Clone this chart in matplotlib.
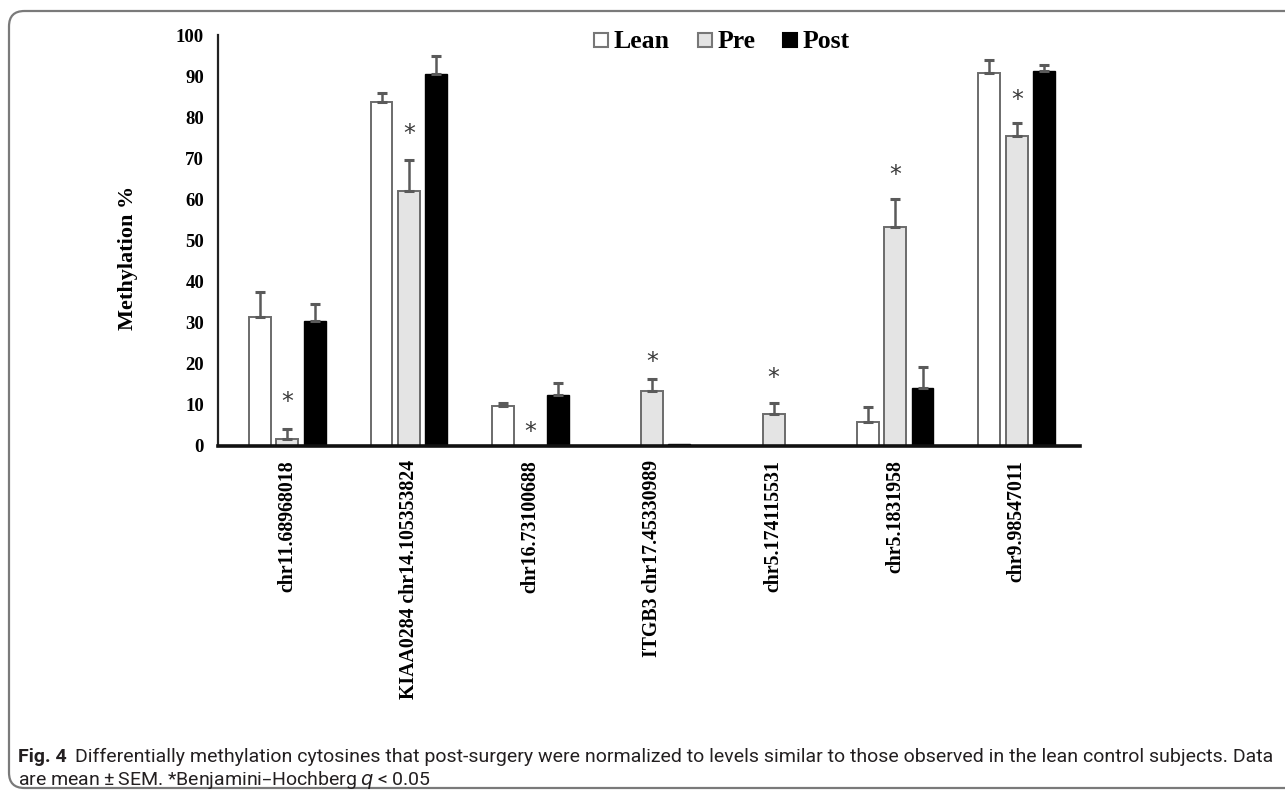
import matplotlib
matplotlib.use("Agg")
import matplotlib.pyplot as plt
import numpy as np
from matplotlib.lines import Line2D
from matplotlib.patches import FancyBboxPatch
from matplotlib import font_manager

categories = ["chr11.68968018", "KIAA0284 chr14.105353824", "chr16.73100688",
              "ITGB3 chr17.45330989", "chr5.174115531", "chr5.1831958", "chr9.98547011"]
series_names = ["Lean", "Pre", "Post"]
lean = [31.3, 83.8, 9.7, 0.0, 0.0, 5.8, 90.7]
lean_err = [6.2, 2.0, 0.8, 0.0, 0.0, 3.7, 3.2]
pre = [1.8, 62.0, 0.0, 13.4, 7.8, 53.2, 75.5]
pre_err = [2.4, 7.5, 0.0, 3.0, 2.6, 7.0, 3.2]
post = [30.4, 90.4, 12.4, 0.6, 0.0, 14.1, 91.2]
post_err = [4.1, 4.4, 3.0, 0.0, 0.0, 5.1, 1.4]
star_y = [10.7, 76.0, 3.5, 20.5, 16.5, 66.0, 84.2]
yticks = [0, 10, 20, 30, 40, 50, 60, 70, 80, 90, 100]
caption_bold = "Fig. 4"
caption_line1 = ("Differentially methylation cytosines that post-surgery were normalized to levels "
                 "similar to those observed in the lean control subjects. Data")
caption_line2 = "are mean\u2009\u00b1\u2009SEM. *Benjamini\u2013Hochberg $q$\u2009<\u20090.05"

W, H = 1285, 793
fig = plt.figure(figsize=(W / 100, H / 100), dpi=100)
serif = "Liberation Serif"

# axes placement (pixels)
ax_left, ax_right, ax_bottom, ax_top = 218, 1080, 446, 35
ax = fig.add_axes([ax_left / W, 1 - ax_bottom / H, (ax_right - ax_left) / W, (ax_bottom - ax_top) / H])

x = np.arange(len(categories))
bw = 0.18
off = 0.225
edge = "#6b6b6b"
errc = "#5a5a5a"
ekw = dict(ecolor=errc, elinewidth=1.8, capsize=3.3, capthick=2.2)

ax.bar(x - off, lean, bw, color="white", edgecolor=edge, linewidth=1.4, zorder=2)
ax.bar(x, pre, bw, color="#e4e4e4", edgecolor=edge, linewidth=1.4, zorder=2)
ax.bar(x + off, post, bw, color="black", edgecolor="black", linewidth=1.0, zorder=2)

def errs(pos, vals, e):
    for p, v, ee in zip(pos, vals, e):
        if ee > 0:
            ax.errorbar([p], [v], yerr=[[0], [ee]], fmt="none", zorder=3, **ekw)

errs(x - off, lean, lean_err)
errs(x, pre, pre_err)
errs(x + off, post, post_err)

for xi, sy in zip(x, star_y):
    ax.text(xi, sy, "*", ha="center", va="center", fontsize=17, color="#3a3a3a",
            family="DejaVu Sans")

ax.set_xlim(-0.57, len(categories) - 0.48)
ax.set_ylim(0, 100)
ax.set_yticks(yticks)
ax.set_yticklabels([str(t) for t in yticks], fontsize=13.5, fontweight="bold", family=serif)
ax.set_xticks(x)
ax.set_xticklabels(categories, rotation=90, fontsize=14.3, fontweight="bold", family=serif,
                   va="top", ha="center")
ax.tick_params(axis="y", length=0, pad=10)
ax.tick_params(axis="x", length=0, pad=10)
for s in ["top", "right"]:
    ax.spines[s].set_visible(False)
ax.spines["left"].set_linewidth(1.6)
ax.spines["bottom"].set_linewidth(2.6)
ax.spines["left"].set_color("#222222")
ax.spines["bottom"].set_color("#111111")

fig.text(128 / W, 1 - 258 / H, "Methylation %", rotation=90, ha="center", va="center",
         fontsize=16, fontweight="bold", family=serif)

handles = [
    Line2D([], [], marker="s", linestyle="none", markersize=10.5, markerfacecolor="white",
           markeredgecolor="#777777", markeredgewidth=1.5),
    Line2D([], [], marker="s", linestyle="none", markersize=10.5, markerfacecolor="#e4e4e4",
           markeredgecolor="#777777", markeredgewidth=1.5),
    Line2D([], [], marker="s", linestyle="none", markersize=10.5, markerfacecolor="black",
           markeredgecolor="black", markeredgewidth=1.5),
]
fig.legend(handles, series_names, loc="center", bbox_to_anchor=(721 / W, 1 - 42 / H), ncol=3,
           frameon=False, handlelength=0.7, handletextpad=0.15, columnspacing=1.0,
           prop=dict(family=serif, weight="bold", size=18.5))

# frame
frame = FancyBboxPatch((9 / W, 1 - 788 / H), (W + 40) / W, (788 - 11) / H,
                       boxstyle="round,pad=0,rounding_size=0.012", transform=fig.transFigure,
                       fill=False, edgecolor="#7a7a7a", linewidth=1.6, clip_on=False,
                       mutation_aspect=W / H)
fig.patches.append(frame)

# caption
cap_font = "Roboto"
try:
    font_manager.findfont(font_manager.FontProperties(family="Liberation Sans Narrow"),
                          fallback_to_default=False)
    cap_font = "Liberation Sans Narrow"
except Exception:
    pass
cap_col = "#231f20"
fig.canvas.draw()
r = fig.canvas.get_renderer()
fs = 13.0
base1 = 762
base2 = 785
tb = fig.text(18 / W, 1 - base1 / H, caption_bold, fontsize=fs, fontweight="bold", family=cap_font,
              color=cap_col, va="baseline")
bb = tb.get_window_extent(r)
t1 = fig.text(bb.x1 / W + 8 / W, 1 - base1 / H, caption_line1, fontsize=fs, family=cap_font,
              color=cap_col, va="baseline")
b1 = t1.get_window_extent(r)
target_right = 1266
scale = (target_right - 18) / (b1.x1 - bb.x0)
fs2 = fs * scale
tb.set_fontsize(fs2)
bb = tb.get_window_extent(r)
t1.set_fontsize(fs2)
t1.set_x(bb.x1 / W + 8 / W)
t2 = fig.text(18 / W, 1 - base2 / H, caption_line2, fontsize=fs2, family=cap_font,
              color=cap_col, va="baseline")

fig.savefig("out.png", dpi=100)
